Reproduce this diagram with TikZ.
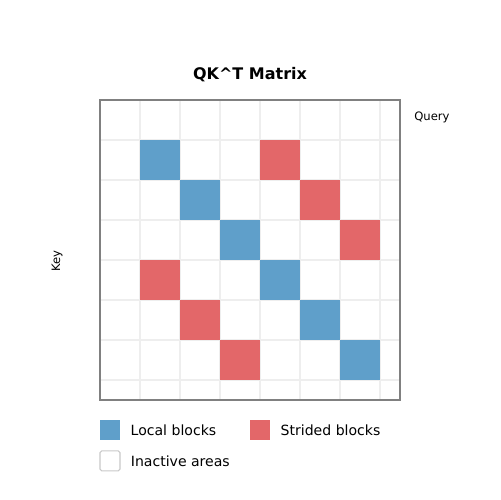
\documentclass[tikz,border=0pt]{standalone}
\usepackage{fontspec}
\setmainfont{DejaVu Sans}
\usetikzlibrary{positioning}
\definecolor{localblue}{RGB}{95,159,202}
\definecolor{stridered}{RGB}{227,103,105}
\definecolor{gridgray}{RGB}{238,238,238}
\definecolor{framegray}{RGB}{128,128,128}
\definecolor{keygray}{RGB}{200,200,200}
\tikzset{
  cell/.style={minimum size=0.8cm, inner sep=0pt, outer sep=0pt},
  legkey/.style={minimum size=0.4cm, inner sep=0pt},
  legtext/.style={inner sep=0pt, font=\fontsize{8}{9.6}\selectfont},
  axlabel/.style={inner sep=0pt, font=\fontsize{6.6}{8}\selectfont}
}

\begin{document}
\begin{tikzpicture}[x=0.02cm, y=-0.02cm]
\useasboundingbox (0,0) rectangle (500,500);
% grid
\foreach \g in {140,180,...,380} {
  \draw[gridgray, line width=0.8pt] (\g,100) -- (\g,400);
  \draw[gridgray, line width=0.8pt] (100,\g) -- (400,\g);
}
% local blocks
\foreach \i in {1,...,6}
  \node[cell, fill=localblue] (loc\i) at (120+40*\i, 120+40*\i) {};
% strided blocks
\foreach \i/\j in {1/4, 2/5, 3/6, 4/1, 5/2, 6/3}
  \node[cell, fill=stridered] (str\i) at (120+40*\j, 120+40*\i) {};
\node[draw=framegray, line width=0.7pt, minimum size=6cm, inner sep=0pt] (mat) at (250,250) {};

\node[font=\bfseries\fontsize{9.1}{11}\selectfont] (title) at (250,75) {QK\textasciicircum T Matrix};
\node[axlabel, anchor=base west] (query) at (414,120) {Query};
\node[axlabel, rotate=90] (key) at (57,261) {Key};

% legend
\node[legkey, fill=localblue] (lockey) at (110,430) {};
\node[legtext, right=0.2cm of lockey] (loctext) {Local blocks};
\node[legkey, fill=stridered] (strkey) at (260,430) {};
\node[legtext, right=0.2cm of strkey] (strtext) {Strided blocks};
\node[legkey, draw=keygray, line width=0.6pt, rounded corners=1pt, below=0.2cm of lockey] (offkey) {};
\node[legtext, right=0.2cm of offkey] (offtext) {Inactive areas};
\end{tikzpicture}
\end{document}
